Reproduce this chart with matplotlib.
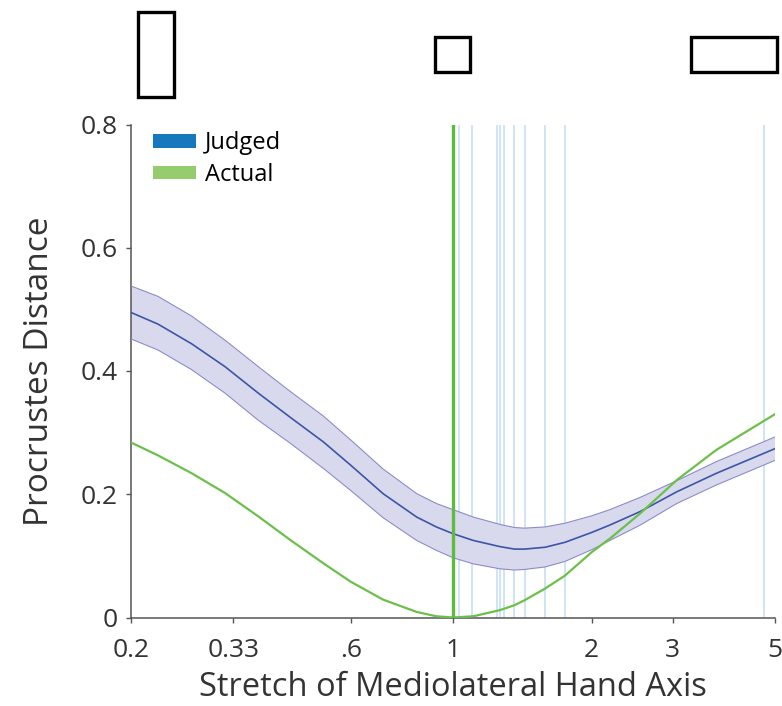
import matplotlib
matplotlib.use("Agg")
import matplotlib.pyplot as plt
from matplotlib.patches import Patch, Rectangle

# ------------------------------------------------------------
# data
# ------------------------------------------------------------
stretch = [0.2, 0.229, 0.271, 0.32, 0.378, 0.443, 0.523, 0.6, 0.705, 0.834, 0.92,
           1.0, 1.107, 1.265, 1.36, 1.43, 1.585, 1.75, 2.0, 2.19, 2.55, 3.06, 3.73, 5.0]

judged_mean = [0.495, 0.476, 0.444, 0.407, 0.364, 0.325, 0.285, 0.247, 0.201, 0.163,
               0.147, 0.136, 0.125, 0.115, 0.111, 0.111, 0.114, 0.122, 0.138, 0.150,
               0.172, 0.204, 0.234, 0.274]
judged_upper = [0.538, 0.521, 0.489, 0.450, 0.407, 0.367, 0.327, 0.288, 0.241, 0.201,
                0.185, 0.175, 0.163, 0.151, 0.146, 0.145, 0.147, 0.153, 0.165, 0.175,
                0.195, 0.222, 0.253, 0.293]
judged_lower = [0.452, 0.434, 0.402, 0.364, 0.320, 0.283, 0.242, 0.206, 0.162, 0.125,
                0.109, 0.097, 0.087, 0.079, 0.077, 0.078, 0.082, 0.091, 0.110, 0.125,
                0.150, 0.185, 0.215, 0.255]
actual = [0.284, 0.263, 0.234, 0.202, 0.164, 0.126, 0.088, 0.058, 0.029, 0.009,
          0.002, 0.0, 0.002, 0.012, 0.020, 0.028, 0.047, 0.068, 0.106, 0.128,
          0.169, 0.223, 0.272, 0.330]

# individual participants' judged best stretch (light blue lines)
participant_best = [1.032, 1.10, 1.244, 1.265, 1.29, 1.358, 1.433, 1.586, 1.747, 4.74]
true_stretch = 1.0

xticks = [0.2, 1 / 3, 0.6, 1, 2, 3, 5]
xtick_labels = ["0.2", "0.33", ".6", "1", "2", "3", "5"]
yticks = [0, 0.2, 0.4, 0.6, 0.8]
ytick_labels = ["0", "0.2", "0.4", "0.6", "0.8"]

# hand-shape glyphs above the plot (figure pixels: x0, y0, x1, y1 from top-left)
glyphs = [(138, 12, 174, 97), (435, 37, 470, 72), (691, 37, 777, 72)]

# ------------------------------------------------------------
# style
# ------------------------------------------------------------
plt.rcParams.update({
    "font.family": ["Open Sans", "DejaVu Sans"],
    "axes.edgecolor": "#555555",
    "axes.linewidth": 1.1,
    "xtick.color": "#555555",
    "ytick.color": "#555555",
    "xtick.labelcolor": "#333333",
    "ytick.labelcolor": "#333333",
})

W, H = 782, 706
fig = plt.figure(figsize=(W / 100, H / 100), dpi=100)
ax = fig.add_axes([131 / W, 1 - 617.5 / H, 644 / W, 493 / H])

for xv in participant_best:
    ax.axvline(xv, color="#cce2f6", lw=1.3, zorder=1)

ax.fill_between(stretch, judged_lower, judged_upper, facecolor="#d9d9ee",
                edgecolor="none", zorder=2)
ax.plot(stretch, judged_upper, color="#8c8cca", lw=0.8, zorder=3)
ax.plot(stretch, judged_lower, color="#8c8cca", lw=0.8, zorder=3)
ax.plot(stretch, judged_mean, color="#3d55a5", lw=1.2, zorder=4)
ax.plot(stretch, actual, color="#6cc04a", lw=1.6, zorder=5)
ax.axvline(true_stretch, color="#5fba3d", lw=2.4, zorder=6)

ax.set_xscale("log")
ax.set_xlim(0.2, 5)
ax.set_ylim(0, 0.8)
ax.set_xticks(xticks)
ax.set_xticklabels(xtick_labels)
ax.minorticks_off()
ax.set_yticks(yticks)
ax.set_yticklabels(ytick_labels)
ax.tick_params(direction="out", length=3.6, width=1, labelsize=19)
ax.tick_params(axis="x", pad=11)
ax.tick_params(axis="y", pad=6)

for s in ["top", "right"]:
    ax.spines[s].set_visible(False)

ax.set_xlabel("Stretch of Mediolateral Hand Axis", fontsize=23.5, color="#333333",
              labelpad=6)
ax.set_ylabel("Procrustes Distance", fontsize=24, color="#333333", labelpad=18)

handles = [Patch(facecolor="#1878be", edgecolor="none", label="Judged"),
           Patch(facecolor="#97cc6e", edgecolor="none", label="Actual")]
ax.legend(handles=handles, loc="upper left", frameon=False, fontsize=17,
          handlelength=1.85, handleheight=0.5, handletextpad=0.35,
          labelspacing=0.32, borderaxespad=0.0, bbox_to_anchor=(0.019, 1.005))

for x0, y0, x1, y1 in glyphs:
    fig.add_artist(Rectangle((x0 / W, 1 - y1 / H), (x1 - x0) / W, (y1 - y0) / H,
                             transform=fig.transFigure, facecolor="white",
                             edgecolor="black", lw=2.4))

fig.savefig("out.png", dpi=100)
